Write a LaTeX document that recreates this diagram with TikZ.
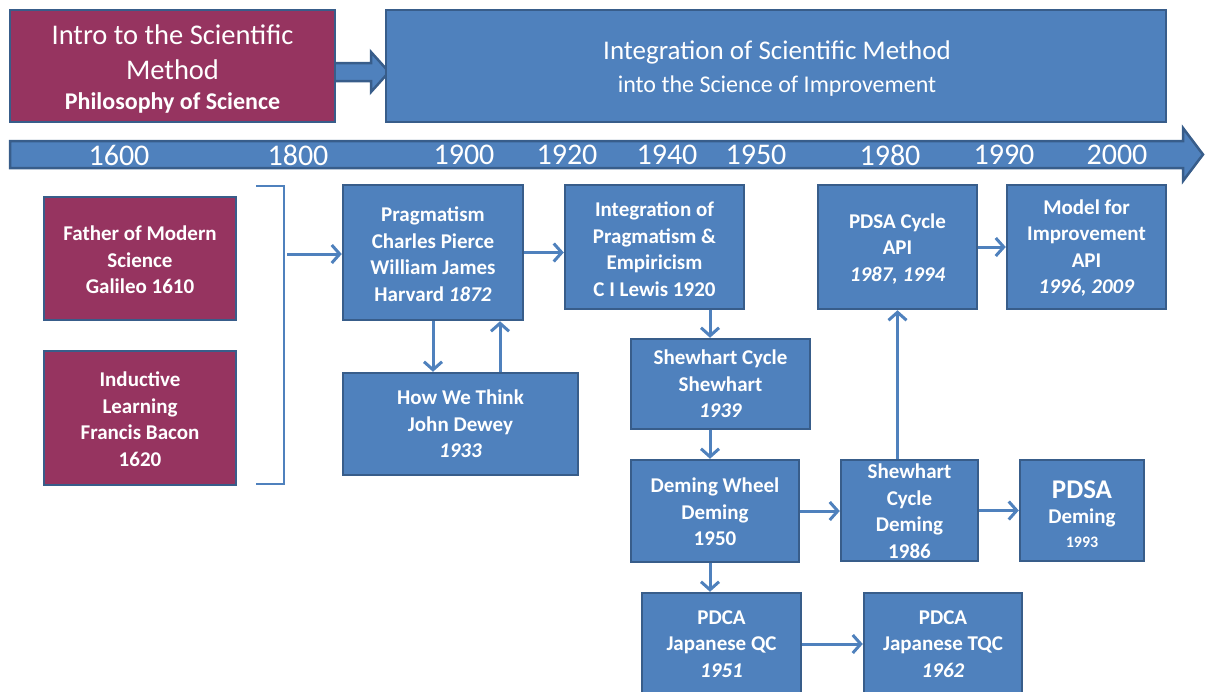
\documentclass[tikz,border=0pt]{standalone}
\usepackage{fontspec}
\setmainfont{Carlito}
\usetikzlibrary{arrows.meta}
\definecolor{boxblue}{RGB}{79,129,189}
\definecolor{edgeblue}{RGB}{56,93,138}
\definecolor{maroonfill}{RGB}{150,52,96}
\definecolor{arrowblue}{RGB}{79,129,189}
\begin{document}
\begin{tikzpicture}[x=1pt,y=-1pt,
  bbox/.style={draw=edgeblue, fill=boxblue, line width=2.5pt, inner sep=0pt},
  mbox/.style={bbox, fill=maroonfill},
  txt/.style={text=white, align=center, inner sep=0pt, font=\fontsize{21}{26.5}\selectfont\bfseries},
  hdr/.style={text=white, inner sep=0pt},
  arr/.style={draw=arrowblue, line width=3pt, -{Straight Barb[length=8pt,width=18pt]}},
  brk/.style={draw=arrowblue, line width=1.5pt},
  yr/.style={text=white, inner sep=0pt, font=\fontsize{30}{30}\selectfont}]
\useasboundingbox (0,0) rectangle (1205,691);
\clip (0,0) rectangle (1205,691);

% header arrow and timeline arrow
\draw[bbox] (334,63) -- (371,63) -- (371,52) -- (389,72) -- (371,92) -- (371,81) -- (334,81) -- cycle;
\draw[bbox] (10,141) -- (1183,141) -- (1183,128) -- (1203,154.5) -- (1183,181) -- (1183,168) -- (10,168) -- cycle;

% header boxes
\node[mbox, minimum width=325pt, minimum height=112pt] (intro) at (172.5,66) {};
\node[bbox, minimum width=780pt, minimum height=112pt] (scim) at (776,66) {};
\node[hdr, font=\fontsize{28.5}{34}\selectfont] (introa) at (172.5,35) {Intro to the Scientific};
\node[hdr, font=\fontsize{28.5}{34}\selectfont] (introb) at (172.5,70) {Method};
\node[hdr, font=\fontsize{24}{30}\selectfont\bfseries] (introc) at (172.5,103) {Philosophy of Science};
\node[hdr, font=\fontsize{27}{32}\selectfont] (scima) at (777,52) {Integration of Scientific Method};
\node[hdr, font=\fontsize{24}{30}\selectfont] (scimb) at (777,86) {into the Science of Improvement};

% years
\node[yr] (y1600) at (119,155) {1600};
\node[yr] (y1800) at (298,155) {1800};
\node[yr] (y1900) at (464,155) {1900};
\node[yr] (y1920) at (567,155) {1920};
\node[yr] (y1940) at (667,155) {1940};
\node[yr] (y1950) at (756,155) {1950};
\node[yr] (y1980) at (890,155) {1980};
\node[yr] (y1990) at (1004,155) {1990};
\node[yr] (y2000) at (1117,155) {2000};

% boxes
\node[mbox, minimum width=192pt, minimum height=123pt] (gal) at (140,258.5) {};
\node[mbox, minimum width=192pt, minimum height=134pt] (bac) at (140,418) {};
\node[bbox, minimum width=180pt, minimum height=135pt] (prag) at (433,252.5) {};
\node[bbox, minimum width=235pt, minimum height=102pt] (dew) at (460.5,424) {};
\node[bbox, minimum width=179pt, minimum height=124pt] (integ) at (654.5,247) {};
\node[bbox, minimum width=179pt, minimum height=90pt] (shew) at (720.5,384) {};
\node[bbox, minimum width=168pt, minimum height=102pt] (dem) at (715,511) {};
\node[bbox, minimum width=137pt, minimum height=101pt] (shewd) at (909.5,510.5) {};
\node[bbox, minimum width=124pt, minimum height=101pt] (pdsa) at (1082,510.5) {};
\node[bbox, minimum width=159pt, minimum height=124pt] (pdsac) at (897.5,247) {};
\node[bbox, minimum width=159pt, minimum height=124pt] (model) at (1086.5,247) {};
\node[bbox, minimum width=159pt, minimum height=127pt] (pdca) at (721.5,656.5) {};
\node[bbox, minimum width=158pt, minimum height=127pt] (tqc) at (943,656.5) {};

% texts
\node[txt] (galt) at (140,260) {Father of Modern\\Science\\Galileo 1610};
\node[txt] (bact) at (140,419) {Inductive\\Learning\\Francis Bacon\\1620};
\node[txt] (pragt) at (433,254) {Pragmatism\\Charles Pierce\\William James\\Harvard \textit{1872}};
\node[txt] (dewt) at (460.5,424) {How We Think\\John Dewey\\\textit{1933}};
\node[txt] (integt) at (654.5,249) {Integration of\\Pragmatism \&\\Empiricism\\C I Lewis 1920};
\node[txt] (shewt) at (720.5,384) {Shewhart Cycle\\Shewhart\\\textit{1939}};
\node[txt] (demt) at (715,512) {Deming Wheel\\Deming\\1950};
\node[txt] (shewdt) at (909.5,511) {Shewhart\\Cycle\\Deming\\1986};
\node[txt, font=\fontsize{27}{30}\selectfont\bfseries] (pdsata) at (1082,490) {PDSA};
\node[txt] (pdsatb) at (1082,518) {Deming};
\node[txt, font=\fontsize{16}{20}\selectfont\bfseries] (pdsatc) at (1082,542) {1993};
\node[txt] (pdsact) at (897.5,249) {PDSA Cycle\\API\\\textit{1987, 1994}};
\node[txt] (modelt) at (1086.5,248) {Model for\\Improvement\\API\\\textit{1996, 2009}};
\node[txt] (pdcat) at (721.5,644) {PDCA\\Japanese QC\\\textit{1951}};
\node[txt] (tqct) at (943,644) {PDCA\\Japanese TQC\\\textit{1962}};

% bracket
\coordinate (bra) at (256,186);
\coordinate (brb) at (284,186);
\coordinate (brc) at (284,484);
\coordinate (brd) at (256,484);
\coordinate (brm) at (287,254);
\draw[brk] (bra) -- (brb) -- (brc) -- (brd);

% helper coordinates
\coordinate (xa) at (710,0);
\coordinate (xb) at (500,0);
\coordinate (ya) at (0,644);

% connectors
\draw[arr] (brm) -- (brm -| prag.west);
\draw[arr] (prag.east) -- (prag.east -| integ.west);
\draw[arr] (prag.south) -- (prag.south |- dew.north);
\draw[arr] (dew.north -| xb) -- (prag.south -| xb);
\draw[arr] (integ.south -| xa) -- (shew.north -| xa);
\draw[arr] (shew.south -| xa) -- (dem.north -| xa);
\draw[arr] (dem.south -| xa) -- (pdca.north -| xa);
\draw[arr] (dem.east) -- (dem.east -| shewd.west);
\draw[arr] (shewd.east) -- (shewd.east -| pdsa.west);
\draw[arr] (shewd.north -| pdsac.south) -- (pdsac.south);
\draw[arr] (pdsac.east) -- (pdsac.east -| model.west);
\draw[arr] (pdca.east |- ya) -- (tqc.west |- ya);
\end{tikzpicture}
\end{document}
